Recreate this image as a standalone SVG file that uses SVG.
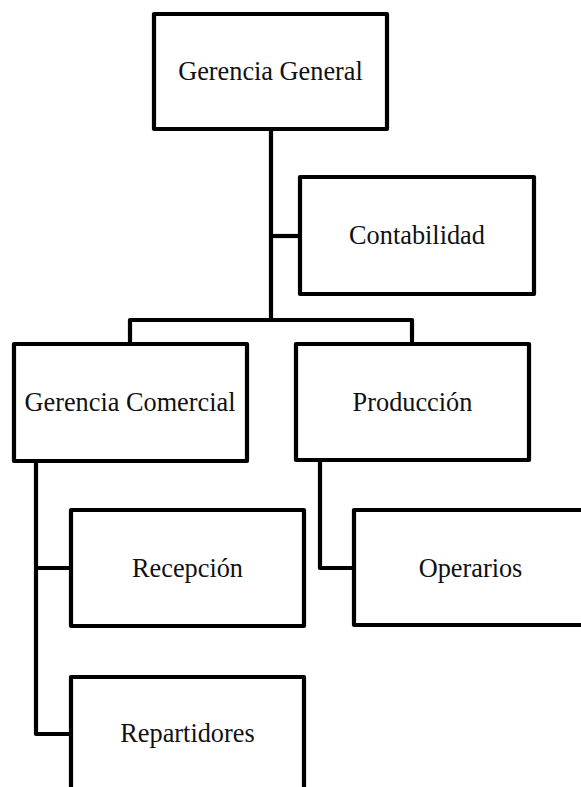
<svg xmlns="http://www.w3.org/2000/svg" width="581" height="787" viewBox="0 0 581 787">
<style>
.box{fill:#fff;stroke:#000;stroke-width:4.2;stroke-linejoin:round}
.con{fill:none;stroke:#000;stroke-width:4.2;stroke-linejoin:round}
.lbl{font-family:"Liberation Serif","Times New Roman",serif;font-size:26.3px;fill:#111;text-anchor:middle}
</style>
<rect width="581" height="787" fill="#fff"/>
<g id="connectors">
<path class="con" d="M271,129 V320"/>
<path class="con" d="M271,236 H300"/>
<path class="con" d="M130,344 V320 H412 V344"/>
<path class="con" d="M36,461 V734 H71"/>
<path class="con" d="M36,568 H71"/>
<path class="con" d="M320,460 V568 H354"/>
</g>
<g id="gerencia-general">
<rect class="box" x="154" y="14" width="233" height="115"/>
<text class="lbl" x="270.5" y="80">Gerencia General</text>
</g>
<g id="contabilidad">
<rect class="box" x="300" y="177" width="234" height="117"/>
<text class="lbl" x="417" y="244">Contabilidad</text>
</g>
<g id="gerencia-comercial">
<rect class="box" x="14" y="344" width="233" height="117"/>
<text class="lbl" x="130" y="411">Gerencia Comercial</text>
</g>
<g id="produccion">
<rect class="box" x="296" y="344" width="233" height="116"/>
<text class="lbl" x="412.5" y="411">Producción</text>
</g>
<g id="recepcion">
<rect class="box" x="71" y="510" width="233" height="116"/>
<text class="lbl" x="187.5" y="577">Recepción</text>
</g>
<g id="operarios">
<rect class="box" x="354" y="510" width="233" height="115"/>
<text class="lbl" x="470.5" y="577">Operarios</text>
</g>
<g id="repartidores">
<rect class="box" x="71" y="677" width="233" height="116"/>
<text class="lbl" x="187.5" y="742">Repartidores</text>
</g>
</svg>
